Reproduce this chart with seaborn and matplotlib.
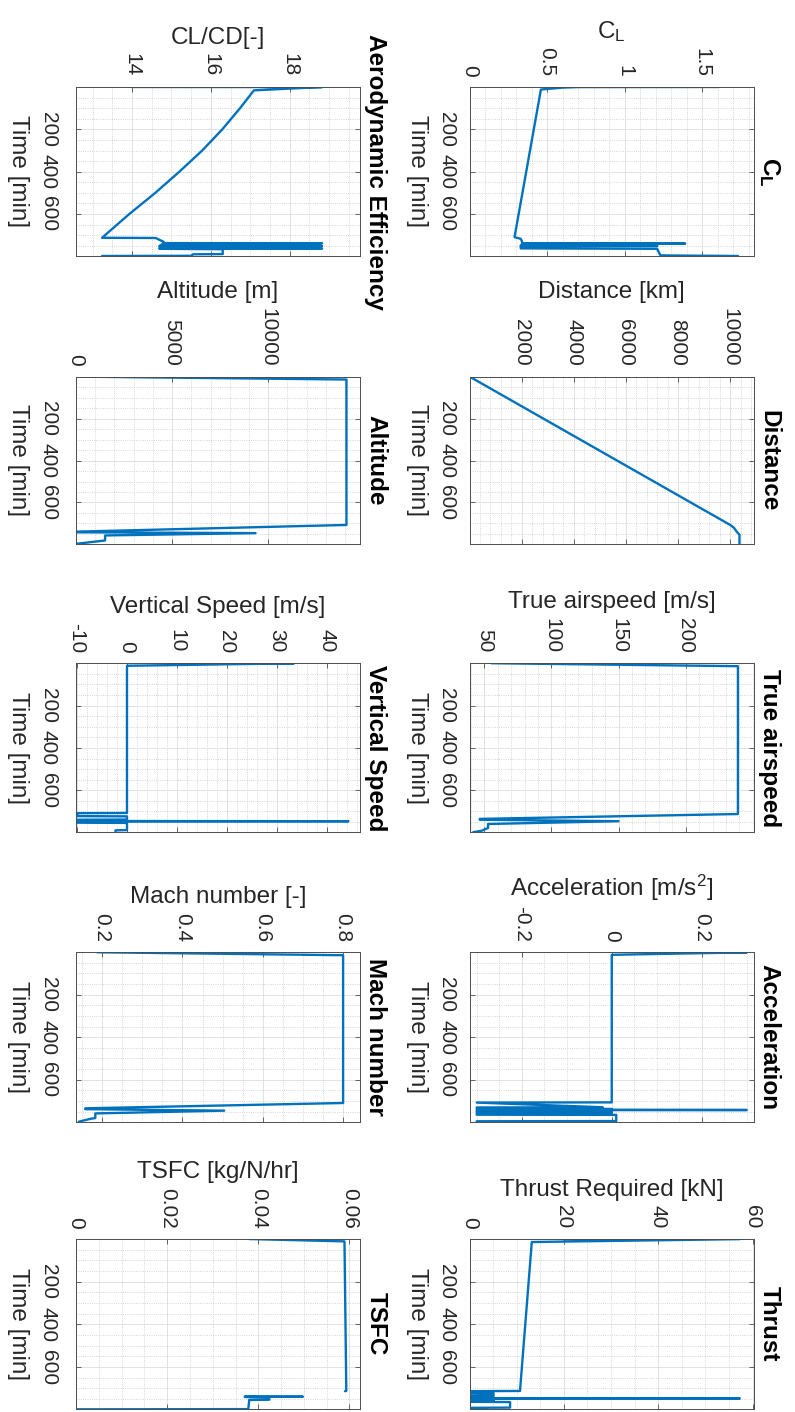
import matplotlib
matplotlib.use("Agg")
import matplotlib.pyplot as plt
import numpy as np
import pandas as pd
import seaborn as sns
from matplotlib.ticker import FixedLocator, MultipleLocator, FuncFormatter

# ---------------- data (time in minutes) ----------------
t_cl = [0, 0.5, 3, 12, 709, 717, 732, 738, 739.5, 741, 749, 750.5, 752, 762, 764, 766, 795, 796, 798]
cl = [1.60, 0.70, 0.60, 0.46, 0.29, 0.33, 0.34, 0.34, 1.39, 0.34, 0.33, 1.21, 0.33, 0.33, 1.21, 1.21, 1.23, 1.35, 1.73]

t_ld = [0, 0.5, 3, 16, 100, 200, 300, 400, 500, 600, 712, 713, 731, 737, 738, 739,
        750, 751, 752, 762, 763, 764, 766, 789, 790, 797, 798]
ld = [14.0, 18.82, 18.5, 17.09, 16.74, 16.29, 15.78, 15.20, 14.59, 13.93, 13.24, 14.6, 14.8, 14.8, 18.82, 14.8,
      14.7, 18.82, 14.7, 14.7, 18.82, 14.7, 16.3, 16.3, 15.55, 15.5, 13.24]

t_dist = [0, 707, 720, 739, 754, 798]
dist = [0, 10000, 10140, 10250, 10356, 10356]

t_alt = [0, 14, 707, 739, 742, 746, 757, 781, 797]
alt = [0, 14070, 14070, 0, 0, 9340, 1513, 1513, 0]

t_tas = [0, 14, 712, 735, 739, 746, 759, 778, 791, 798]
tas = [55.3, 238.9, 238.9, 46.6, 46.6, 150.0, 52.8, 52.8, 48.0, 41.7]

t_vs = [0, 0.5, 12, 707, 708, 722, 723, 738, 739, 745, 746, 747, 753, 754, 788, 789, 798]
vs = [8.7, 33.4, 0, 0, -9.9, -9.9, 0, 0, -9.9, -9.9, 44.3, -9.9, -9.9, 0, 0, -2.3, -2.3]

t_acc = [0, 0.5, 12, 707, 708, 730, 731, 737, 738, 742, 743, 744, 750, 751, 757, 758, 765, 766, 795, 796, 798]
acc = [0.11, 0.30, 0.0, 0.0, -0.30, -0.02, -0.30, -0.30, 0.0, 0.0, 0.30, -0.30, -0.30, 0.0, 0.0, -0.30, -0.30,
       0.01, 0.01, -0.30, -0.30]

t_mach = [0, 14, 710, 735, 739, 746, 759, 781, 784, 798]
mach = [0.1875, 0.80, 0.80, 0.158, 0.158, 0.504, 0.183, 0.183, 0.172, 0.142]

t_thr = [0, 0.5, 14, 712, 713, 722, 723, 733, 734, 740, 741, 746, 747, 748, 752, 753, 762, 763, 764, 790, 791, 797, 798]
thr = [19.9, 57.3, 13.2, 10.7, 0.2, 0.2, 5.1, 5.1, 0.2, 0.2, 5.1, 5.1, 57.3, 0.2, 0.2, 5.1, 5.1, 0.2, 8.6, 8.6,
       0.2, 0.2, 3.7]

t_tsfc = [0, 11, 712, 713, 738, 739, 740, 742, 753, 754, 797, 798]
tsfc = [0.0380, 0.0589, 0.0593, 0.0590, 0.0370, 0.0498, 0.0372, 0.0424, 0.0424, 0.0380, 0.0378, 0.0]
seg_tsfc = [1, 1, 1, 1, 2, 2, 2, 2, 2, 2, 2, 2]

time_ticks = [200, 400, 600]
T_MAX = 798

# ---------------- style ----------------
sns.set_theme(style="white")
plt.rcParams["font.family"] = ["Liberation Sans", "DejaVu Sans"]
plt.rcParams["mathtext.fontset"] = "custom"
plt.rcParams["mathtext.rm"] = "Liberation Sans"
plt.rcParams["mathtext.it"] = "Liberation Sans:italic"
plt.rcParams["mathtext.bf"] = "Liberation Sans:bold"

BLUE = "#0072BD"
TXT = "#262626"
SPINE = "#4d4d4d"

fig = plt.figure(figsize=(7.95, 14.12), dpi=100)

col_left = {0: 0.0956, 1: 0.5906}
col_w = 0.3572
rows = [(0.8187, 0.1197), (0.6147, 0.1186), (0.4106, 0.1197), (0.2056, 0.1200), (0.0019, 0.1206)]

panels = [
    dict(r=0, c=1, t=t_cl, v=cl, lim=(0, 1.83), ticks=[0, 0.5, 1, 1.5], minor=0.1,
         xlabel=r"C$_\mathregular{L}$", title=r"$\mathbf{C_L}$"),
    dict(r=0, c=0, t=t_ld, v=ld, lim=(12.58, 19.78), ticks=[14, 16, 18], minor=0.5,
         xlabel="CL/CD[-]", title="Aerodynamic Efficiency"),
    dict(r=1, c=1, t=t_dist, v=dist, lim=(0, 10894), ticks=[2000, 4000, 6000, 8000, 10000], minor=400,
         xlabel="Distance [km]", title="Distance"),
    dict(r=1, c=0, t=t_alt, v=alt, lim=(0, 14773), ticks=[0, 5000, 10000], minor=1000,
         xlabel="Altitude [m]", title="Altitude"),
    dict(r=2, c=1, t=t_tas, v=tas, lim=(39.0, 250.5), ticks=[50, 100, 150, 200], minor=10,
         xlabel="True airspeed [m/s]", title="True airspeed"),
    dict(r=2, c=0, t=t_vs, v=vs, lim=(-10.2, 46.6), ticks=[-10, 0, 10, 20, 30, 40], minor=2,
         xlabel="Vertical Speed [m/s]", title="Vertical Speed"),
    dict(r=3, c=1, t=t_acc, v=acc, lim=(-0.316, 0.315), ticks=[-0.2, 0, 0.2], minor=0.05,
         xlabel=r"Acceleration [m/s$^\mathregular{2}$]", title="Acceleration"),
    dict(r=3, c=0, t=t_mach, v=mach, lim=(0.135, 0.842), ticks=[0.2, 0.4, 0.6, 0.8], minor=0.05,
         xlabel="Mach number [-]", title="Mach number"),
    dict(r=4, c=1, t=t_thr, v=thr, lim=(0, 60.2), ticks=[0, 20, 40, 60], minor=5,
         xlabel="Thrust Required [kN]", title="Thrust"),
    dict(r=4, c=0, t=t_tsfc, v=tsfc, seg=seg_tsfc, lim=(0, 0.0623), ticks=[0, 0.02, 0.04, 0.06], minor=0.005,
         xlabel="TSFC [kg/N/hr]", title="TSFC"),
]

fmt = FuncFormatter(lambda v, p: f"{v:g}")

for p in panels:
    b, h = rows[p["r"]]
    ax = fig.add_axes([col_left[p["c"]], b, col_w, h])
    seg = p.get("seg", [1] * len(p["t"]))
    df = pd.DataFrame({"time": p["t"], "value": p["v"], "seg": seg})
    sns.lineplot(data=df, x="value", y="time", units="seg", estimator=None, sort=False,
                 color=BLUE, linewidth=1.7, ax=ax, legend=False)

    ax.set_xlim(*p["lim"])
    ax.set_ylim(T_MAX, 0)
    ax.xaxis.set_major_locator(FixedLocator(p["ticks"]))
    ax.xaxis.set_minor_locator(MultipleLocator(p["minor"]))
    ax.xaxis.set_major_formatter(fmt)
    ax.yaxis.set_major_locator(FixedLocator(time_ticks))
    ax.yaxis.set_minor_locator(MultipleLocator(50))
    ax.yaxis.set_major_formatter(fmt)

    ax.xaxis.tick_top()
    ax.xaxis.set_label_position("top")
    ax.tick_params(which="major", direction="in", length=3.5, width=0.6, color=SPINE,
                   top=True, bottom=True, left=True, right=True, labelsize=15, labelcolor=TXT)
    ax.tick_params(which="minor", length=0)
    ax.tick_params(axis="x", which="major", labeltop=True, labelbottom=False, labelrotation=-90, pad=7.5)
    ypad = 13 if p["c"] == 0 else 9.5
    ax.tick_params(axis="y", which="major", labelleft=True, labelright=False, labelrotation=-90, pad=ypad)
    for lab in ax.get_yticklabels():
        lab.set_va("center")

    ax.grid(which="major", color="#dddddd", linewidth=0.6, linestyle="-")
    ax.grid(which="minor", color="#c8c8c8", linewidth=0.6, linestyle=":")
    ax.set_axisbelow(True)
    for s in ax.spines.values():
        s.set_color(SPINE)
        s.set_linewidth(0.7)

    ax.set_xlabel(p["xlabel"], fontsize=17.5, color=TXT, labelpad=7)
    ax.set_ylabel("Time [min]", fontsize=17.5, color=TXT, rotation=-90, rotation_mode="anchor",
                  va="top", ha="center", labelpad=7)
    ax.set_title(p["title"], fontsize=17.5, fontweight="bold", color="black", rotation=-90,
                 rotation_mode="anchor", ha="center", va="baseline", x=1.033, y=0.5, pad=0)

fig.savefig("out.png", dpi=100)
